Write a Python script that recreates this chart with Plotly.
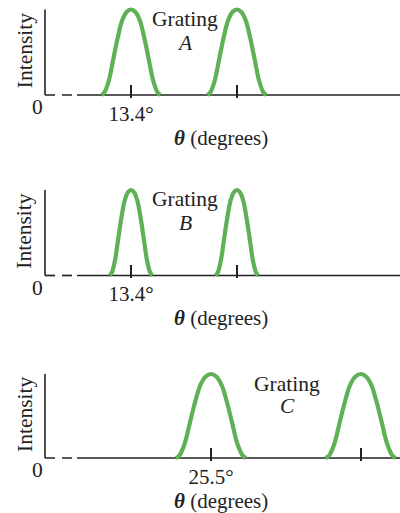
import plotly.graph_objects as go

# ---- data -------------------------------------------------------------
GRATINGS = ["A", "B", "C"]
# centres of the two principal maxima (degrees)
PEAK_CENTERS = {"A": [13.4, 29.9], "B": [13.4, 29.9], "C": [25.5, 48.5]}
# half-width of each maximum at its base (degrees)
HALF_WIDTHS = {"A": 4.6, "B": 3.35, "C": 5.4}
# label under the first maximum
PEAK_LABELS = {"A": "13.4°", "B": "13.4°", "C": "25.5°"}

# normalised line shape: offset (in half-widths) vs. relative intensity
PROFILE_OFFSET = [-1.0, -0.9, -0.75, -0.6, -0.45, -0.3, -0.15, 0.0,
                  0.15, 0.3, 0.45, 0.6, 0.75, 0.9, 1.0]
PROFILE_HEIGHT = [0.0, 0.03, 0.17, 0.42, 0.67, 0.87, 0.97, 1.0,
                  0.97, 0.87, 0.67, 0.42, 0.17, 0.03, 0.0]

# ---- layout geometry (pixels) ----------------------------------------
W, H = 400, 513
X_LEFT, X_RIGHT = 45, 400
BASE_PX = {"A": 95, "B": 275.5, "C": 458}
TOP_PX = {"A": 9.5, "B": 190, "C": 374}
PX_PER_DEG = {"A": 6.418, "B": 6.418, "C": 6.51}
Y_LO, Y_HI = -0.03, 1.05

GREEN = "#60b055"
INK = "#222222"
FONT = "Liberation Serif"
FS = 21.5


def py(px):
    return 1 - px / H


def px_x(px):
    return px / W


fig = go.Figure()
layout = dict(
    width=W, height=H, margin=dict(l=0, r=0, t=0, b=0),
    paper_bgcolor="white", plot_bgcolor="white", showlegend=False,
    font=dict(family=FONT, size=FS, color=INK),
)
shapes, annotations = [], []

for i, g in enumerate(GRATINGS):
    n = "" if i == 0 else str(i + 1)
    xa, ya = "x" + n, "y" + n
    xkey, ykey = "xaxis" + n, "yaxis" + n

    # one curve per maximum
    for c in PEAK_CENTERS[g]:
        xs = [c + o * HALF_WIDTHS[g] for o in PROFILE_OFFSET]
        fig.add_trace(go.Scatter(
            x=xs, y=PROFILE_HEIGHT, mode="lines", xaxis=xa, yaxis=ya,
            line=dict(color=GREEN, width=4.2, shape="spline", smoothing=1),
            hoverinfo="skip",
        ))

    base, top = BASE_PX[g], TOP_PX[g]
    scale = base - top
    dom_bottom = base - Y_LO * scale
    dom_top = top - (Y_HI - 1) * scale

    layout[xkey] = dict(
        domain=[X_LEFT / W, X_RIGHT / W],
        range=[0, (X_RIGHT - X_LEFT) / PX_PER_DEG[g]],
        anchor=ya, showgrid=False, zeroline=False, showline=False,
        ticks="inside", ticklen=13, tickwidth=1.5, tickcolor=INK,
        tickvals=PEAK_CENTERS[g],
        ticktext=[PEAK_LABELS[g], ""],
        tickfont=dict(family=FONT, size=21, color=INK),
        ticklabelstandoff=1,
    )
    layout[ykey] = dict(
        domain=[py(dom_bottom), py(dom_top)],
        range=[Y_LO, Y_HI], anchor=xa,
        showgrid=False, zeroline=False, showline=False,
        showticklabels=False, ticks="",
    )

    # baseline: broken near the origin, solid after
    for a, b in [(45, 55), (62, 72), (77, 400)]:
        shapes.append(dict(
            type="line", xref=xa + " domain", yref=ya,
            x0=(a - X_LEFT) / (X_RIGHT - X_LEFT),
            x1=(b - X_LEFT) / (X_RIGHT - X_LEFT),
            y0=0, y1=0, line=dict(color=INK, width=1.7), layer="below",
        ))
    # intensity axis
    shapes.append(dict(
        type="line", xref=xa + " domain", yref=ya,
        x0=0, x1=0, y0=0, y1=1, line=dict(color=INK, width=1.6),
        layer="below",
    ))

    # text
    annotations += [
        dict(text="0", x=px_x(37.5), y=py(base + 12), xref="paper",
             yref="paper", showarrow=False, xanchor="center",
             yanchor="middle"),
        dict(text="<b><i>θ</i></b> (degrees)", x=px_x(221),
             y=py(base + 42.5), xref="paper", yref="paper",
             showarrow=False, xanchor="center", yanchor="middle",
             font=dict(size=21)),
        dict(text="Intensity", textangle=-90, x=px_x(24.5),
             y=py((top + base) / 2 - 1.5), xref="paper", yref="paper",
             showarrow=False, xanchor="center", yanchor="middle"),
    ]

# grating names
GRATING_TEXT_POS = {"A": (185, 19, 42.5), "B": (185, 199.5, 223.5),
                    "C": (287, 383.5, 406)}
for g in GRATINGS:
    x, y1, y2 = GRATING_TEXT_POS[g]
    annotations += [
        dict(text="Grating", x=px_x(x), y=py(y1), xref="paper",
             yref="paper", showarrow=False, xanchor="center",
             yanchor="middle"),
        dict(text=f"<i>{g}</i>", x=px_x(x), y=py(y2), xref="paper",
             yref="paper", showarrow=False, xanchor="center",
             yanchor="middle"),
    ]

layout["shapes"] = shapes
layout["annotations"] = annotations
fig.update_layout(**layout)
fig.write_html("out.html")
